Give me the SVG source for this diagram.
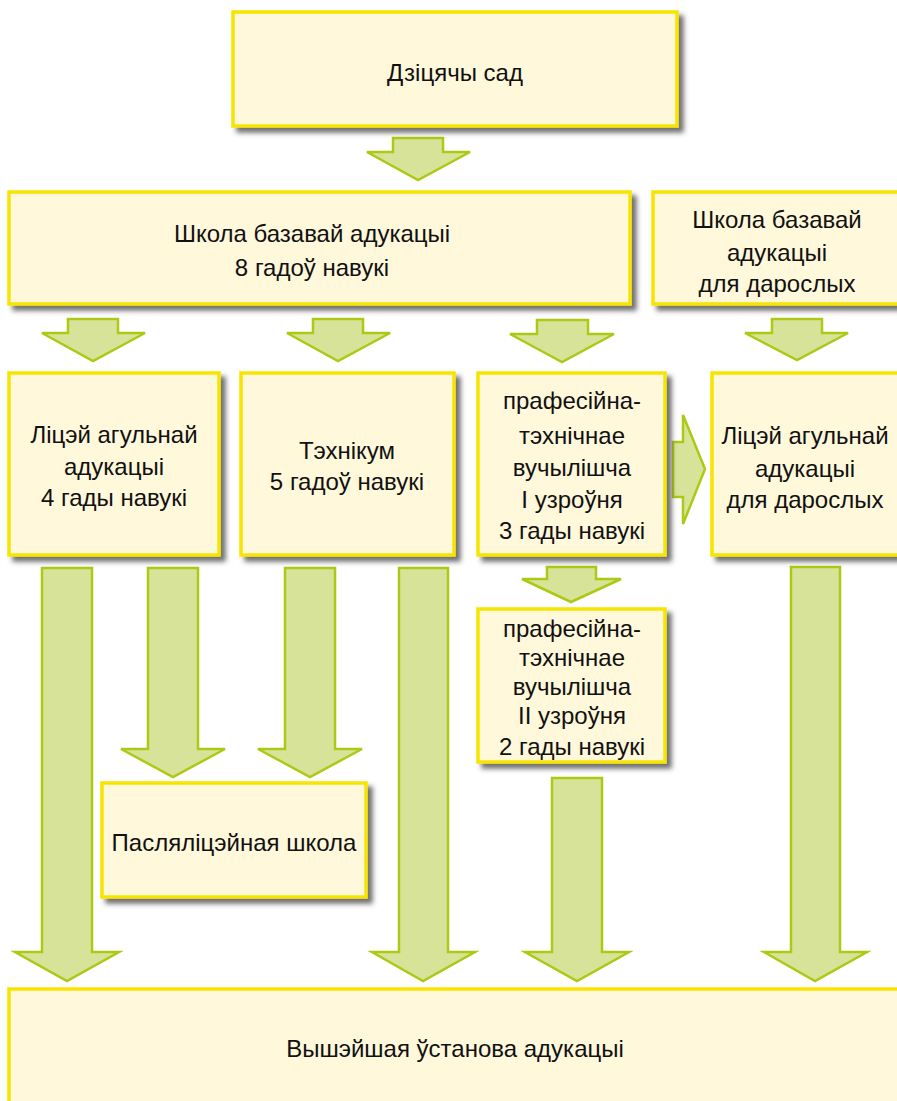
<svg xmlns="http://www.w3.org/2000/svg" width="897" height="1101" viewBox="0 0 897 1101">
<defs>
<filter id="sh" x="-10%" y="-10%" width="130%" height="130%">
<feDropShadow dx="5" dy="5" stdDeviation="2.5" flood-color="#404040" flood-opacity="0.75"/>
</filter>
</defs>
<style>
.box{fill:#FFF8DA;stroke:#F7E400;stroke-width:3.5;filter:url(#sh)}
.ar{fill:#D8E39A;stroke:#ADC916;stroke-width:2.5;stroke-linejoin:miter}
text{font-family:"Liberation Sans",Arial,sans-serif;font-size:24px;fill:#111;text-anchor:middle}
</style>
<rect width="897" height="1101" fill="#fff"/>
<g id="connectors">
<path class="ar" d="M393,138H443V152H470L418,180L367,152H393Z"/>
<path class="ar" d="M68,319H118V333H145L93,361L42,333H68Z"/>
<path class="ar" d="M313,319H363V333H390L338,361L287,333H313Z"/>
<path class="ar" d="M537,320H588V334H614L562,362L510,334H537Z"/>
<path class="ar" d="M772,319H822V333H848L797,360L745,333H772Z"/>
<path class="ar" d="M673,442H683V415L705,469L683,524V497H673Z"/>
<path class="ar" d="M42,568H92V952H119L67,981L15,952H42Z"/>
<path class="ar" d="M148,568H198V749H225L173,777L121,749H148Z"/>
<path class="ar" d="M285,568H335V749H362L310,777L258,749H285Z"/>
<path class="ar" d="M399,568H448V952H475L423,981L372,952H399Z"/>
<path class="ar" d="M547,567H596V579H621L571,602L522,579H547Z"/>
<path class="ar" d="M552,778H602V952H629L577,981L525,952H552Z"/>
<path class="ar" d="M791,567H840V952H867L815,981L764,952H791Z"/>
</g>
<g id="n-kindergarten">
<rect class="box" x="233" y="12" width="444" height="114"/>
<text x="455" y="81">Дзіцячы сад</text>
</g>
<g id="n-basic-school">
<rect class="box" x="9" y="192" width="621" height="112"/>
<text x="312" y="242">Школа базавай адукацыі</text>
<text x="312" y="276">8 гадоў навукі</text>
</g>
<g id="n-basic-school-adults">
<rect class="box" x="653" y="192" width="250" height="112"/>
<text x="777" y="228">Школа базавай</text>
<text x="777" y="261">адукацыі</text>
<text x="777" y="292">для дарослых</text>
</g>
<g id="n-lyceum">
<rect class="box" x="9" y="373" width="210" height="182"/>
<text x="114" y="443">Ліцэй агульнай</text>
<text x="114" y="475">адукацыі</text>
<text x="114" y="506">4 гады навукі</text>
</g>
<g id="n-technikum">
<rect class="box" x="241" y="373" width="213" height="182"/>
<text x="347" y="459">Тэхнікум</text>
<text x="347" y="490">5 гадоў навукі</text>
</g>
<g id="n-vocational-1">
<rect class="box" x="478" y="373" width="187" height="182"/>
<text x="572" y="409">прафесійна-</text>
<text x="572" y="444">тэхнічнае</text>
<text x="572" y="476">вучылішча</text>
<text x="572" y="508">I узроўня</text>
<text x="572" y="539">3 гады навукі</text>
</g>
<g id="n-lyceum-adults">
<rect class="box" x="712" y="373" width="190" height="182"/>
<text x="805" y="444">Ліцэй агульнай</text>
<text x="805" y="477">адукацыі</text>
<text x="805" y="508">для дарослых</text>
</g>
<g id="n-vocational-2">
<rect class="box" x="478" y="609" width="187" height="153"/>
<text x="572" y="637">прафесійна-</text>
<text x="572" y="666">тэхнічнае</text>
<text x="572" y="695">вучылішча</text>
<text x="572" y="724">II узроўня</text>
<text x="572" y="755">2 гады навукі</text>
</g>
<g id="n-postlyceum">
<rect class="box" x="102" y="783" width="264" height="114"/>
<text x="234" y="851">Пасляліцэйная школа</text>
</g>
<g id="n-higher">
<rect class="box" x="9" y="989" width="895" height="130"/>
<text x="455" y="1057">Вышэйшая ўстанова адукацыі</text>
</g>
</svg>
